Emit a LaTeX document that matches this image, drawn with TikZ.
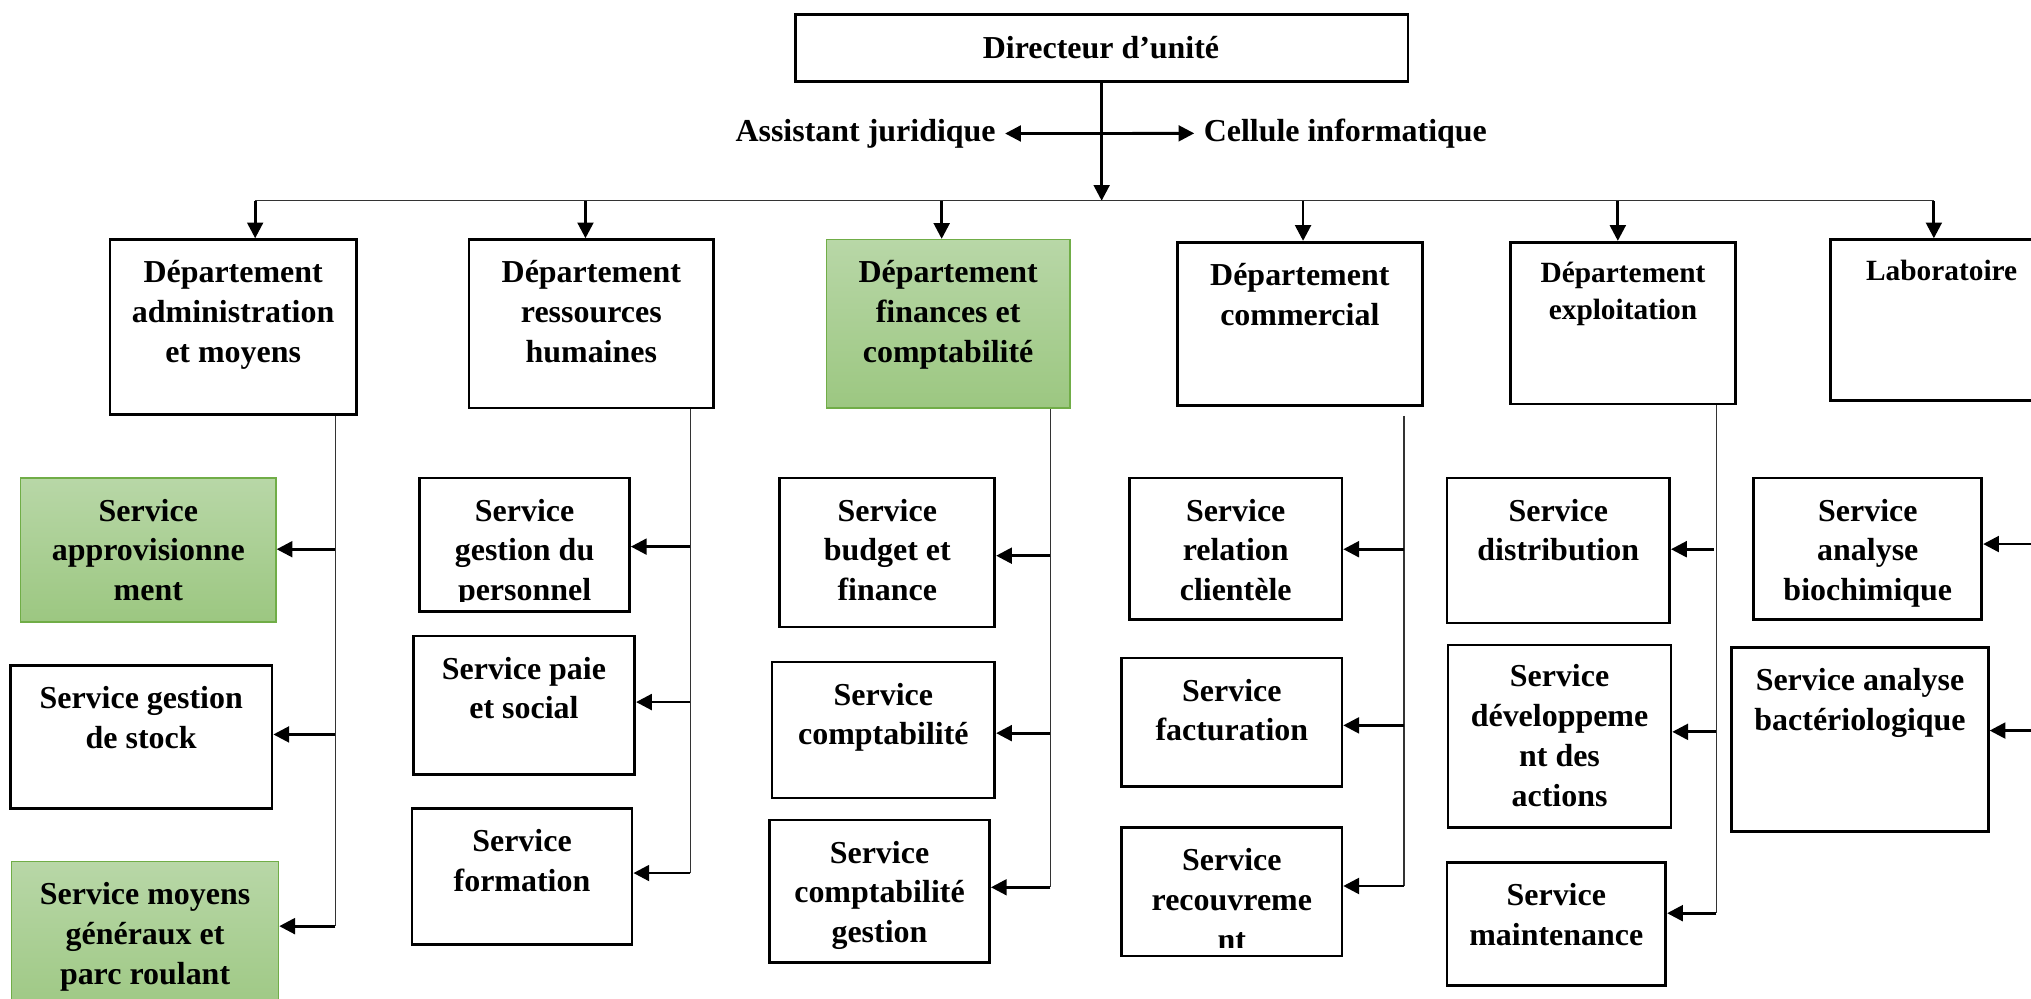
\documentclass[tikz,border=0pt]{standalone}
\usepackage{fontspec}
\setmainfont{Liberation Serif}
\usetikzlibrary{arrows.meta,fit}

\definecolor{gtop}{RGB}{184,215,167}
\definecolor{gbot}{RGB}{156,199,129}
\definecolor{gline}{RGB}{112,173,71}

\tikzset{
  unitbox/.style={draw=black, line width=1.25pt, inner sep=0pt},
  greenbox/.style={draw=gline, line width=0.7pt, top color=gtop, bottom color=gbot, inner sep=0pt},
  lbl/.style={font=\fontsize{14.8}{18.4}\selectfont\bfseries, align=center, inner sep=0pt, anchor=north},
  lblsmall/.style={font=\fontsize{13.6}{16.9}\selectfont\bfseries, align=center, inner sep=0pt, anchor=north},
  side/.style={font=\fontsize{14.8}{18.4}\selectfont\bfseries, inner xsep=4.2pt, inner ysep=0pt},
  feed/.style={line width=0.6pt, draw=black!80},
  arr/.style={line width=1.3pt, -{Triangle[length=7.3pt,width=7.3pt]}},
  dbl/.style={line width=1.3pt, {Triangle[length=7.3pt,width=7.3pt]}-{Triangle[length=7.3pt,width=7.3pt]}},
}
% strut fixing the height of the first line of a label
\newcommand\fl{\rule{0pt}{12pt}}

\begin{document}
\begin{tikzpicture}[x=0.6pt, y=-0.6pt]
\useasboundingbox (0,0) rectangle (1568,771);
\clip (0,0) rectangle (1568,771);

% ---------- head of the unit ----------
\node[unitbox, fit={(614,11) (1087,63)}] (dir) {};
\node[lbl, anchor=base] (dir-t) at (850,45) {Directeur d’unité};
\node[side, anchor=base east] (aj) at (776,109) {Assistant juridique};
\node[side, anchor=base west] (ci) at (922,109) {Cellule informatique};

% ---------- departments ----------
\node[unitbox, fit={(85,185) (275,320)}] (da) {};
\node[lbl] (da-t) at (180,198) {\fl Département\\administration\\et moyens};
\node[unitbox, fit={(362,185) (551,315)}] (dr) {};
\node[lbl] (dr-t) at (456.5,198) {\fl Département\\ressources\\humaines};
\node[greenbox, fit={(638,185) (826,315)}] (df) {};
\node[lbl] (df-t) at (732,198) {\fl Département\\finances et\\comptabilité};
\node[unitbox, fit={(909,187) (1098,313)}] (dc) {};
\node[lbl] (dc-t) at (1003.5,200) {\fl Département\\commercial};
\node[unitbox, fit={(1166,187) (1340,312)}] (de) {};
\node[lblsmall] (de-t) at (1253,198) {\fl Département\\exploitation};
\node[unitbox, fit={(1413,185) (1585,309)}] (dl) {};
\node[lblsmall] (dl-t) at (1499,196) {\fl Laboratoire};

% ---------- services: administration et moyens ----------
\node[greenbox, fit={(16,369) (213,480)}] (sa) {};
\node[lbl] (sa-t) at (114.5,382) {\fl Service\\approvisionne\\ment};
\node[unitbox, fit={(8,514) (210,624)}] (sg) {};
\node[lbl] (sg-t) at (109,527) {\fl Service gestion\\de stock};
\node[greenbox, fit={(9,665) (215,790)}] (sm) {};
\node[lbl] (sm-t) at (112,678) {\fl Service moyens\\généraux et\\parc roulant};

% ---------- services: ressources humaines ----------
\node[unitbox, fit={(324,369) (486,472)}] (rp) {};
\begin{scope}
  \clip (324,369) rectangle (486,464);
  \node[lbl] (rp-t) at (405,382) {\fl Service\\gestion du\\personnel};
\end{scope}
\node[unitbox, fit={(319,491) (490,598)}] (rs) {};
\node[lbl] (rs-t) at (404.5,504) {\fl Service paie\\et social};
\node[unitbox, fit={(318,624) (488,729)}] (rf) {};
\node[lbl] (rf-t) at (403,637) {\fl Service\\formation};

% ---------- services: finances et comptabilité ----------
\node[unitbox, fit={(602,369) (768,484)}] (fb) {};
\node[lbl] (fb-t) at (685,382) {\fl Service\\budget et\\finance};
\node[unitbox, fit={(596,511) (768,616)}] (fc) {};
\node[lbl] (fc-t) at (682,524) {\fl Service\\comptabilité};
\node[unitbox, fit={(594,633) (764,743)}] (fg) {};
\node[lbl] (fg-t) at (679,646) {\fl Service\\comptabilité\\gestion};

% ---------- services: commercial ----------
\node[unitbox, fit={(872,369) (1036,478)}] (cr) {};
\node[lbl] (cr-t) at (954,382) {\fl Service\\relation\\clientèle};
\node[unitbox, fit={(866,508) (1036,607)}] (cf) {};
\node[lbl] (cf-t) at (951,521) {\fl Service\\facturation};
\node[unitbox, fit={(866,639) (1036,738)}] (cv) {};
\begin{scope}
  \clip (866,639) rectangle (1036,731.5);
  \node[lbl] (cv-t) at (951,652) {\fl Service\\recouvreme\\nt};
\end{scope}

% ---------- services: exploitation ----------
\node[unitbox, fit={(1117,369) (1289,481)}] (ed) {};
\node[lbl] (ed-t) at (1203,382) {\fl Service\\distribution};
\node[unitbox, fit={(1118,498) (1290,639)}] (ea) {};
\node[lbl] (ea-t) at (1204,510) {\fl Service\\développeme\\nt des\\actions};
\node[unitbox, fit={(1117,666) (1286,761)}] (em) {};
\node[lbl] (em-t) at (1201.5,679) {\fl Service\\maintenance};

% ---------- services: laboratoire ----------
\node[unitbox, fit={(1354,369) (1530,478)}] (lb) {};
\node[lbl] (lb-t) at (1442,382) {\fl Service\\analyse\\biochimique};
\node[unitbox, fit={(1337,500) (1535,642)}] (lt) {};
\node[lbl] (lt-t) at (1436,513) {\fl Service analyse\\bactériologique};

% ---------- links from the head ----------
\draw[dbl] (aj.east) -- (ci.west);
\coordinate (b1) at (197,155);
\coordinate (b2) at (452,155);
\coordinate (b3) at (727,155);
\coordinate (b4) at (1006,155);
\coordinate (b5) at (1249,155);
\coordinate (b6) at (1493,155);
\draw[arr] (dir.south) -- (dir.south |- b1);
\draw[feed] (b1) -- (b6);
\draw[arr] (b1) -- (da.north -| b1);
\draw[arr] (b2) -- (dr.north -| b2);
\draw[arr] (b3) -- (df.north -| b3);
\draw[arr] (b4) -- (dc.north -| b4);
\draw[arr] (b5) -- (de.north -| b5);
\draw[arr] (b6) -- (dl.north -| b6);

% ---------- links to the services ----------
\coordinate (a1) at (259,424);
\coordinate (a2) at (259,567);
\coordinate (a3) at (259,715);
\draw[feed] (da.south -| a3) -- (a3);
\draw[arr] (a1) -- (sa.east |- a1);
\draw[arr] (a2) -- (sg.east |- a2);
\draw[arr] (a3) -- (sm.east |- a3);

\coordinate (r1) at (533,422);
\coordinate (r2) at (533,542);
\coordinate (r3) at (533,674);
\draw[feed] (dr.south -| r3) -- (r3);
\draw[arr] (r1) -- (rp.east |- r1);
\draw[arr] (r2) -- (rs.east |- r2);
\draw[arr] (r3) -- (rf.east |- r3);

\coordinate (f1) at (811,429);
\coordinate (f2) at (811,566);
\coordinate (f3) at (811,685);
\draw[feed] (df.south -| f3) -- (f3);
\draw[arr] (f1) -- (fb.east |- f1);
\draw[arr] (f2) -- (fc.east |- f2);
\draw[arr] (f3) -- (fg.east |- f3);

\coordinate (c0) at (1084,321);
\coordinate (c1) at (1084,424);
\coordinate (c2) at (1084,560);
\coordinate (c3) at (1084,684);
\draw[feed] (c0) -- (c3);
\draw[arr] (c1) -- (cr.east |- c1);
\draw[arr] (c2) -- (cf.east |- c2);
\draw[arr] (c3) -- (cv.east |- c3);

\coordinate (e1) at (1323,424);
\coordinate (e2) at (1325,565);
\coordinate (e3) at (1325,705);
\draw[feed] (de.south -| e3) -- (e3);
\draw[arr] (e1) -- (ed.east |- e1);
\draw[arr] (e2) -- (ea.east |- e2);
\draw[arr] (e3) -- (em.east |- e3);

\coordinate (l1) at (1575,420);
\coordinate (l2) at (1575,564);
\draw[feed] (dl.south -| l2) -- (l2);
\draw[arr] (l1) -- (lb.east |- l1);
\draw[arr] (l2) -- (lt.east |- l2);
\end{tikzpicture}
\end{document}
